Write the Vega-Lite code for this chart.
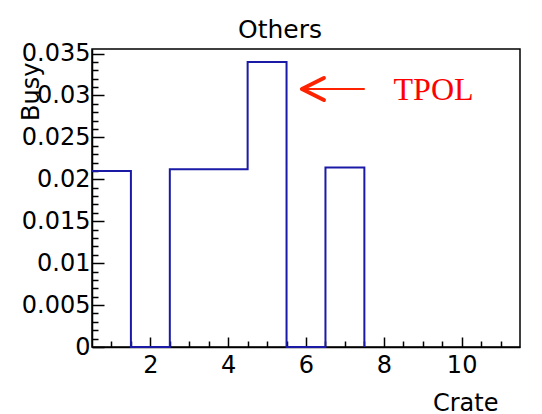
{
  "$schema": "https://vega.github.io/schema/vega-lite/v6.json",
  "width": 428,
  "height": 298,
  "autosize": {"type": "none"},
  "padding": {"left": 92, "top": 49, "right": 22, "bottom": 67},
  "background": "white",
  "title": {"text": "Others", "frame": "group", "anchor": "middle", "dx": -26, "offset": -21.5, "baseline": "alphabetic", "font": "DejaVu Sans", "fontSize": 25, "fontWeight": "normal", "color": "black"},
  "config": {
    "view": {"stroke": "black", "strokeWidth": 1.5},
    "axis": {"grid": false, "domainColor": "black", "domainWidth": 1.5, "tickColor": "black", "tickWidth": 1.5, "labelColor": "black", "labelFont": "DejaVu Sans", "labelFontSize": 24, "titleFont": "DejaVu Sans", "titleFontSize": 24, "titleFontWeight": "normal", "titleColor": "black", "labelFlush": false, "labelOverlap": false}
  },
  "datasets": {
    "hist": [
      {"edge": 0.5, "busy": 0.0210},
      {"edge": 1.5, "busy": 0},
      {"edge": 2.5, "busy": 0.0212},
      {"edge": 3.5, "busy": 0.0212},
      {"edge": 4.5, "busy": 0.0340},
      {"edge": 5.5, "busy": 0},
      {"edge": 6.5, "busy": 0.0214},
      {"edge": 7.5, "busy": 0}
    ]
  },
  "resolve": {"axis": {"x": "independent", "y": "independent"}},
  "layer": [
    {
      "data": {"name": "hist"},
      "mark": {"type": "line", "interpolate": "step-after", "color": "#1a1aa6", "strokeWidth": 2},
      "encoding": {
        "x": {"field": "edge", "type": "quantitative", "scale": {"domain": [0.5, 11.5], "nice": false, "zero": false},
          "axis": {"orient": "bottom", "values": [2, 4, 6, 8, 10], "format": "d", "tickSize": -10, "labelPadding": 35, "labelBaseline": "alphabetic", "title": "Crate", "titleX": 406, "titleY": 63, "titleAlign": "right", "titleBaseline": "alphabetic"}},
        "y": {"field": "busy", "type": "quantitative", "scale": {"domain": [0, 0.03554], "nice": false, "zero": false},
          "axis": {"orient": "left", "values": [0, 0.005, 0.01, 0.015, 0.02, 0.025, 0.03, 0.035], "format": "~g", "tickSize": -12, "labelPadding": 14, "title": "Busy", "titleX": -54, "titleY": 13, "titleAngle": 270, "titleAlign": "right", "titleBaseline": "alphabetic"}}
      }
    },
    {
      "data": {"name": "hist"},
      "mark": {"type": "point", "opacity": 0},
      "encoding": {
        "x": {"field": "edge", "type": "quantitative",
          "axis": {"orient": "bottom", "values": [1, 1.5, 2.5, 3, 3.5, 4.5, 5, 5.5, 6.5, 7, 7.5, 8.5, 9, 9.5, 10.5, 11], "labels": false, "domain": false, "tickSize": -6, "title": null}},
        "y": {"field": "busy", "type": "quantitative",
          "axis": {"orient": "left", "values": [0.001, 0.002, 0.003, 0.004, 0.006, 0.007, 0.008, 0.009, 0.011, 0.012, 0.013, 0.014, 0.016, 0.017, 0.018, 0.019, 0.021, 0.022, 0.023, 0.024, 0.026, 0.027, 0.028, 0.029, 0.031, 0.032, 0.033, 0.034], "labels": false, "domain": false, "tickSize": -6, "title": null}}
      }
    },
    {
      "data": {"values": [{"label": "TPOL"}]},
      "mark": {"type": "rule", "color": "#ff2200", "strokeWidth": 2},
      "encoding": {
        "x": {"datum": 5.9, "type": "quantitative", "axis": null},
        "x2": {"datum": 7.51},
        "y": {"datum": 0.03077, "type": "quantitative", "axis": null}
      }
    },
    {
      "data": {"values": [{"label": "TPOL"}]},
      "mark": {"type": "point", "shape": "M1,-1L-1,0L1,1", "filled": false, "stroke": "#ff2200", "strokeWidth": 4, "strokeCap": "round", "strokeJoin": "round", "size": 484, "opacity": 1},
      "encoding": {
        "x": {"datum": 6.178, "type": "quantitative", "axis": null},
        "y": {"datum": 0.03077, "type": "quantitative", "axis": null}
      }
    },
    {
      "data": {"values": [{"label": "TPOL"}]},
      "mark": {"type": "text", "font": "Liberation Serif", "fontSize": 32, "color": "#ff0000", "align": "left", "baseline": "alphabetic"},
      "encoding": {
        "x": {"datum": 8.25, "type": "quantitative", "axis": null},
        "y": {"datum": 0.02945, "type": "quantitative", "axis": null},
        "text": {"field": "label"}
      }
    }
  ]
}
